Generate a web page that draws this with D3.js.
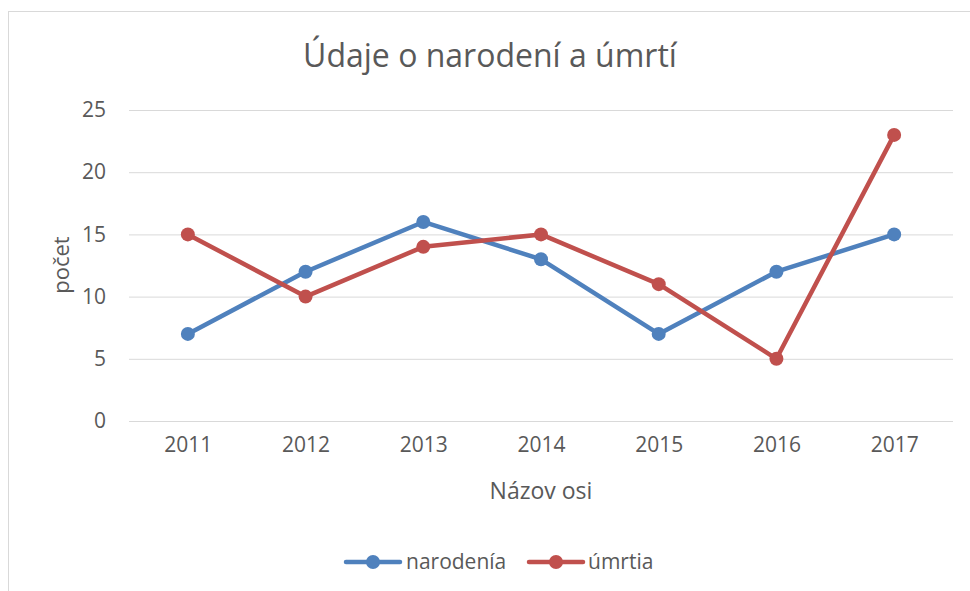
<!DOCTYPE html>
<html>
<head>
<meta charset="utf-8">
<script src="https://cdn.jsdelivr.net/npm/d3@7"></script>
<style>
  body { margin: 0; background: #fff; }
  text { font-family: "Open Sans", sans-serif; fill: #595959; }
</style>
</head>
<body>
<div id="chart"></div>
<script>
const years = ["2011", "2012", "2013", "2014", "2015", "2016", "2017"];
const narodenia = [7, 12, 16, 13, 7, 12, 15];
const umrtia = [15, 10, 14, 15, 11, 5, 23];
const yTicks = [0, 5, 10, 15, 20, 25];

const series = [
  { name: "narodenía", values: narodenia, color: "#4F81BD" },
  { name: "úmrtia", values: umrtia, color: "#C0504D" }
];

const w = 970;
const h = 591;
const plot = { left: 129, right: 953, top: 110, bottom: 421 };

const svg = d3.select("#chart")
  .append("svg")
  .attr("width", w)
  .attr("height", h);

//frame of the chart area
svg.append("rect")
  .attr("x", 8.5)
  .attr("y", 11.5)
  .attr("width", 1000)
  .attr("height", 700)
  .attr("fill", "#fff")
  .attr("stroke", "#d9d9d9");

const x = d3.scalePoint()
  .domain(years)
  .range([plot.left, plot.right])
  .padding(0.5);

const y = d3.scaleLinear()
  .domain([0, 25])
  .range([plot.bottom, plot.top]);

//gridlines + y labels
const yAxis = d3.axisLeft(y)
  .tickValues(yTicks)
  .tickSize(-(plot.right - plot.left))
  .tickPadding(23);

svg.append("g")
  .attr("transform", `translate(${plot.left},0)`)
  .call(yAxis)
  .call(g => g.select(".domain").remove())
  .call(g => g.selectAll(".tick line").attr("stroke", "#d9d9d9").attr("stroke-width", 1))
  .call(g => g.selectAll(".tick text").attr("font-size", 21).attr("fill", "#595959"));

//x labels
const xAxis = d3.axisBottom(x).tickSize(0).tickPadding(16);
svg.append("g")
  .attr("transform", `translate(0,${plot.bottom})`)
  .call(xAxis)
  .call(g => g.select(".domain").remove())
  .call(g => g.selectAll(".tick text").attr("font-size", 21).attr("fill", "#595959"));

//lines
const line = d3.line()
  .x((d, i) => x(years[i]))
  .y(d => y(d));

series.forEach(s => {
  svg.append("path")
    .datum(s.values)
    .attr("fill", "none")
    .attr("stroke", s.color)
    .attr("stroke-width", 4.5)
    .attr("stroke-linejoin", "round")
    .attr("stroke-linecap", "round")
    .attr("d", line);

  svg.append("g")
    .selectAll("circle")
    .data(s.values)
    .enter()
    .append("circle")
    .attr("cx", (d, i) => x(years[i]))
    .attr("cy", d => y(d))
    .attr("r", 7)
    .attr("fill", s.color);
});

//title
svg.append("text")
  .attr("x", 490)
  .attr("y", 67)
  .attr("text-anchor", "middle")
  .attr("font-size", 32)
  .text("Údaje o narodení a úmrtí");

//axis titles
svg.append("text")
  .attr("transform", "translate(69,265) rotate(-90)")
  .attr("text-anchor", "middle")
  .attr("font-size", 22)
  .text("počet");

svg.append("text")
  .attr("x", 541)
  .attr("y", 499)
  .attr("text-anchor", "middle")
  .attr("font-size", 23)
  .text("Názov osi");

//legend
const legendItems = [
  { x: 346, tx: 406 },
  { x: 529, tx: 588 }
];
const legend = svg.append("g");
series.forEach((s, i) => {
  const it = legendItems[i];
  legend.append("line")
    .attr("x1", it.x).attr("x2", it.x + 54)
    .attr("y1", 562).attr("y2", 562)
    .attr("stroke", s.color)
    .attr("stroke-width", 4.5)
    .attr("stroke-linecap", "round");
  legend.append("circle")
    .attr("cx", it.x + 27).attr("cy", 562).attr("r", 7)
    .attr("fill", s.color);
  legend.append("text")
    .attr("x", it.tx).attr("y", 569)
    .attr("font-size", 21)
    .text(s.name);
});
</script>
</body>
</html>
